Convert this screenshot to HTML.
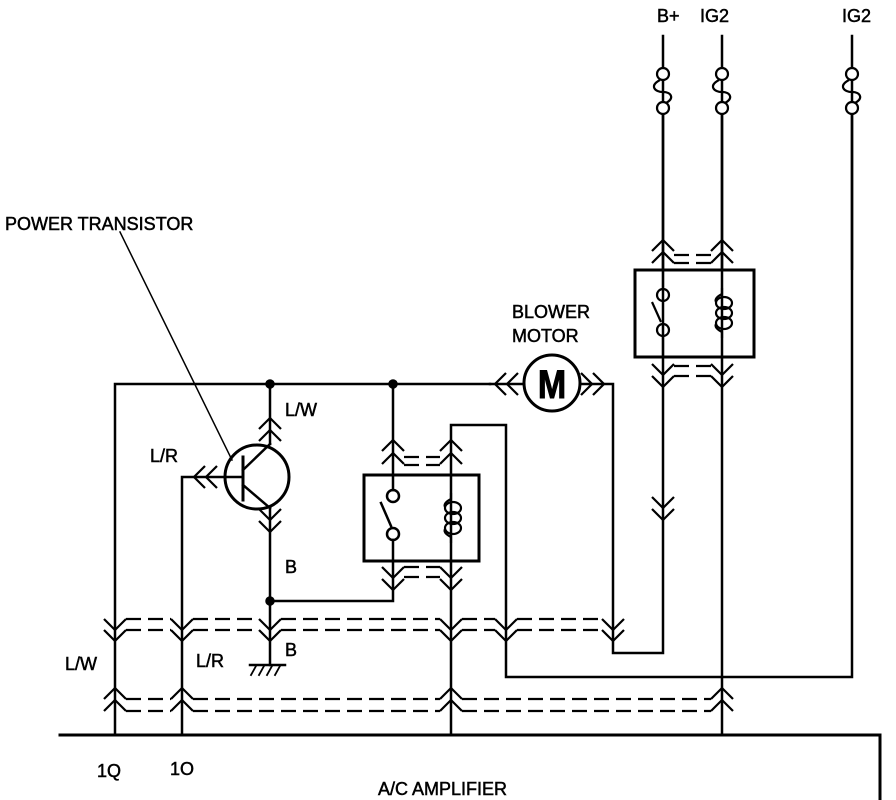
<!DOCTYPE html>
<html><head><style>
html,body{margin:0;padding:0;background:#fff;}
svg{display:block}
text{font-family:"Liberation Sans",sans-serif;font-size:18px;fill:#000;stroke:#000;stroke-width:0.5;}
</style></head><body>
<svg id="s" width="896" height="800" viewBox="0 0 896 800" xmlns="http://www.w3.org/2000/svg">
<g fill="none" stroke="#000" stroke-width="2.5" stroke-linecap="square">
<polyline points="115,735 115,384 490,384"/>
<circle cx="270" cy="384" r="3.5" fill="#000"/>
<circle cx="393" cy="384" r="3.5" fill="#000"/>
<polyline points="182,735 182,477 243,477"/>
<circle cx="257" cy="477" r="32" stroke-width="3"/>
<line x1="243" y1="457" x2="243" y2="500" stroke-width="3"/>
<line x1="243" y1="470" x2="270" y2="444"/>
<line x1="243" y1="485" x2="270" y2="508"/>
<line x1="270" y1="384" x2="270" y2="444"/>
<line x1="270" y1="508" x2="270" y2="665"/>
<circle cx="270" cy="601" r="3.5" fill="#000"/>
<polyline points="270,601 393,601 393,561"/>
<line x1="250" y1="665" x2="285" y2="665"/>
<g stroke-width="1.8"><line x1="256" y1="666" x2="251" y2="675"/><line x1="264" y1="666" x2="259" y2="675"/><line x1="272" y1="666" x2="267" y2="675"/><line x1="280" y1="666" x2="275" y2="675"/></g>
<rect x="364" y="475" width="115" height="86" stroke-width="3"/>
<line x1="393" y1="384" x2="393" y2="490"/>
<circle cx="393" cy="496" r="6"/>
<circle cx="393" cy="534" r="6"/>
<line x1="391" y1="526" x2="381" y2="503"/>
<line x1="393" y1="540" x2="393" y2="561"/>
<polyline points="451,735 451,425 506,425 506,677 852,677 852,36"/>
<circle cx="552" cy="383" r="28" stroke-width="3"/>
<line x1="490" y1="384" x2="524" y2="384"/>
<polyline points="580,384 613,384 613,653 663,653 663,36"/>
<line x1="722" y1="36" x2="722" y2="735"/>
<rect x="635" y="270" width="119" height="87" stroke-width="3"/>
<polyline points="60,735 880,735 880,800" stroke-width="3"/>
<line x1="120" y1="232" x2="232" y2="460" stroke-width="1.5"/>
</g>
<g id="c" fill="none" stroke="#000" stroke-width="2.2"></g>
<g>
<text x="5" y="230">POWER TRANSISTOR</text>
<text x="285" y="416">L/W</text>
<text x="150" y="462">L/R</text>
<text x="285" y="573">B</text>
<text x="285" y="656">B</text>
<text x="65" y="670">L/W</text>
<text x="196" y="667">L/R</text>
<text x="97" y="777">1Q</text>
<text x="170" y="775">1O</text>
<text x="378" y="795">A/C AMPLIFIER</text>
<text x="512" y="318">BLOWER</text>
<text x="512" y="342">MOTOR</text>
<text x="657" y="22">B+</text>
<text x="700" y="22">IG2</text>
<text x="842" y="22">IG2</text>
<text x="552" y="398" text-anchor="middle" style="font-size:40px;font-weight:bold;stroke-width:1" transform="translate(552 383) scale(0.85 1) translate(-552 -383)">M</text>
</g>
</svg>
<script>
var ns="http://www.w3.org/2000/svg",c=document.getElementById('c');
function el(t,a){var e=document.createElementNS(ns,t);for(var k in a)e.setAttribute(k,a[k]);c.appendChild(e);return e;}
function pl(p,d){var a={points:p};if(d)a['stroke-dasharray']='15,7';el('polyline',a);}
function vch(x,y,dir){pl((x-11)+','+(y-11*dir)+' '+x+','+y+' '+(x+11)+','+(y-11*dir));}
function hch(x,y,dir){pl((x-11*dir)+','+(y-11)+' '+x+','+y+' '+(x-11*dir)+','+(y+11));}
[663,722,852].forEach(function(x){
 el('line',{x1:x,y1:36,x2:x,y2:68,'stroke-width':1.5});
 el('circle',{cx:x,cy:74,r:6,fill:'#fff'});el('circle',{cx:x,cy:108,r:6,fill:'#fff'});
 el('path',{d:'M'+(x-3)+' 80 C'+(x-14)+' 86,'+(x-8)+' 92,'+x+' 92 C'+(x+8)+' 92,'+(x+12)+' 98,'+(x+3)+' 103'});
 el('line',{x1:x,y1:114,x2:x,y2:270,'stroke-width':2.5});
});
el('circle',{cx:663,cy:295,r:6});el('circle',{cx:663,cy:330,r:6});
el('line',{x1:661,y1:322,x2:652,y2:302});
el('line',{x1:663,y1:336,x2:663,y2:357});
el('line',{x1:663,y1:270,x2:663,y2:289});
function coil(x,y0,y1){var h=(y1-y0)/3;for(var i=0;i<3;i++)el('ellipse',{cx:x+2,cy:y0+h*(i+0.5),rx:8,ry:h/2+1});
 el('path',{d:'M'+x+' '+(y0-10)+' L'+x+' '+(y0-4)+' Q'+(x-8)+' '+y0+' '+(x-6)+' '+(y0+4)});
 el('path',{d:'M'+(x-6)+' '+(y1-4)+' Q'+(x-8)+' '+y1+' '+x+' '+(y1+4)+' L'+x+' '+(y1+10)});}
coil(722,298,328);coil(451,503,533);
vch(663,240,-1);vch(663,252,-1);vch(722,240,-1);vch(722,252,-1);
pl('674,255 711,255',1);pl('674,263 711,263',1);
vch(663,375,1);vch(663,387,1);vch(722,375,1);vch(722,387,1);
pl('674,366 711,366',1);pl('674,376 711,376',1);
vch(663,508,1);vch(663,520,1);
vch(393,440,-1);vch(393,453,-1);vch(451,440,-1);vch(451,453,-1);
pl('404,457 440,457',1);pl('404,465 440,465',1);
vch(393,578,1);vch(393,590,1);vch(451,578,1);vch(451,590,1);
pl('404,567 440,567',1);pl('404,577 440,577',1);
vch(270,418,-1);vch(270,430,-1);vch(270,520,1);vch(270,532,1);
hch(194,477,-1);hch(206,477,-1);
hch(495,384,-1);hch(507,384,-1);hch(592,384,1);hch(604,384,1);
var up=[115,182,270,451,506,613];
up.forEach(function(x){vch(x,630,1);vch(x,641,1);});
for(var i=0;i<up.length-1;i++){pl((up[i]+11)+',619 '+(up[i+1]-11)+',619',1);pl((up[i]+11)+',630 '+(up[i+1]-11)+',630',1);}
var lo=[115,182,451,722];
lo.forEach(function(x){vch(x,688,-1);vch(x,700,-1);});
for(var i=0;i<lo.length-1;i++){pl((lo[i]+11)+',699 '+(lo[i+1]-11)+',699',1);pl((lo[i]+11)+',711 '+(lo[i+1]-11)+',711',1);}
</script>
</body></html>
